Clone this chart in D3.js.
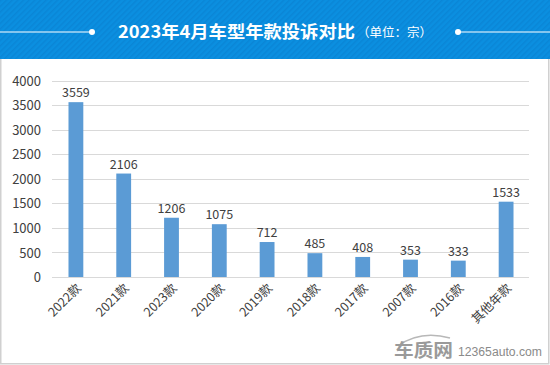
<!DOCTYPE html>
<html><head><meta charset="utf-8">
<script src="https://cdn.jsdelivr.net/npm/d3@7"></script>
<style>body{margin:0;background:#fff}svg{display:block}</style>
</head><body>
<script>
const categories = ["2022款","2021款","2023款","2020款","2019款","2018款","2017款","2007款","2016款","其他年款"];
const values = [3559,2106,1206,1075,712,485,408,353,333,1533];
const yTicks = [0,500,1000,1500,2000,2500,3000,3500,4000];
const title = "2023年4月车型年款投诉对比";
const unit = "（单位：宗）";

const W = 550, H = 365;
const font = "'Microsoft YaHei','Noto Sans CJK SC','Noto Sans',sans-serif";
const svg = d3.select("body").append("svg").attr("width", W).attr("height", H);

// header with stripes
const defs = svg.append("defs");
const pat = defs.append("pattern").attr("id","stripes").attr("width",4).attr("height",4)
  .attr("patternUnits","userSpaceOnUse").attr("patternTransform","rotate(45)");
pat.append("rect").attr("width",4).attr("height",4).attr("fill","#0b8fe0");
pat.append("rect").attr("width",1.5).attr("height",4).attr("fill","#0a86d6");
svg.append("rect").attr("x",0).attr("y",0).attr("width",W).attr("height",59).attr("fill","url(#stripes)");

// border
svg.append("path").attr("d",`M0.75,59 V${H-1.25} H${W-1.25} V59`).attr("fill","none").attr("stroke","#d0d0d0").attr("stroke-width",1.5);

// header lines and dots
svg.append("line").attr("x1",0).attr("x2",92).attr("y1",32).attr("y2",32).attr("stroke","#fff").attr("stroke-width",1.2);
svg.append("line").attr("x1",458).attr("x2",W).attr("y1",32).attr("y2",32).attr("stroke","#fff").attr("stroke-width",1.2);
svg.append("circle").attr("cx",92).attr("cy",32).attr("r",3).attr("fill","#fff");
svg.append("circle").attr("cx",458).attr("cy",32).attr("r",3).attr("fill","#fff");
svg.append("text").attr("x",118).attr("y",38).attr("fill","#fff").attr("font-family",font)
  .attr("font-size",17).attr("font-weight","bold").text(title)
  .attr("textLength",237).attr("lengthAdjust","spacingAndGlyphs");
svg.append("text").attr("x",357).attr("y",37).attr("fill","#fff").attr("font-family",font)
  .attr("font-size",12.5).text(unit);

// scales
const x = d3.scaleBand().domain(categories).range([52,530]).paddingInner(0.69).paddingOuter(0.345);
const y = d3.scaleLinear().domain([0,4000]).range([277,80.5]);

// grid
svg.append("g").selectAll("line").data(yTicks).join("line")
  .attr("x1",52).attr("x2",529).attr("y1",d=>Math.round(y(d))+0.5).attr("y2",d=>Math.round(y(d))+0.5)
  .attr("stroke","#d9d9d9").attr("stroke-width",1);

// y axis labels
const yAxis = d3.axisLeft(y).tickValues(yTicks).tickFormat(d3.format("d")).tickSize(0).tickPadding(0);
const ga = svg.append("g").attr("transform","translate(41,0)").call(yAxis);
ga.select(".domain").remove();
ga.selectAll("text").attr("font-family",font).attr("font-size",13).attr("fill","#404040").attr("dy","0.35em");

// bars
svg.append("g").selectAll("rect").data(values).join("rect")
  .attr("x",(d,i)=>x(categories[i])).attr("width",x.bandwidth())
  .attr("y",d=>y(d)).attr("height",d=>y(0)-y(d)).attr("fill","#5b9bd5");

// value labels
svg.append("g").selectAll("text").data(values).join("text")
  .attr("x",(d,i)=>x(categories[i])+x.bandwidth()/2).attr("y",d=>y(d)-5)
  .attr("text-anchor","middle").attr("font-family",font).attr("font-size",12.5).attr("fill","#404040")
  .text(d=>d);

// x labels
const xAxis = d3.axisBottom(x).tickSize(0).tickPadding(0);
const gx = svg.append("g").attr("transform","translate(0,277)").call(xAxis);
gx.select(".domain").remove();
gx.selectAll("text").attr("font-family",font).attr("font-size",12.5).attr("fill","#404040")
  .attr("text-anchor","end").attr("dy",0).attr("y",0)
  .attr("transform","translate(6,12) rotate(-45)");

// watermark
svg.append("path").attr("d","M398,346 Q420,330 450,338").attr("fill","none").attr("stroke","#b8b8b8").attr("stroke-width",1.5);
svg.append("text").attr("x",394).attr("y",357).attr("font-family",font).attr("font-size",18)
  .attr("font-weight","bold").attr("fill","#9a9a9a").text("车质网")
  .attr("textLength",59).attr("lengthAdjust","spacingAndGlyphs");
svg.append("text").attr("x",458).attr("y",356).attr("font-family","Arial,'Liberation Sans',sans-serif")
  .attr("font-size",12).attr("fill","#8a8a8a").text("12365auto.com")
  .attr("textLength",84).attr("lengthAdjust","spacingAndGlyphs");
</script>
</body></html>
